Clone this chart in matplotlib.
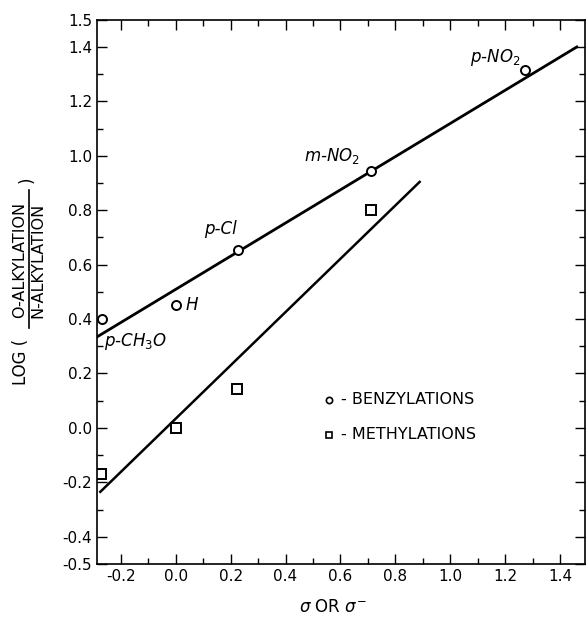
import matplotlib.pyplot as plt
from matplotlib.lines import Line2D
from matplotlib.ticker import MultipleLocator, FixedLocator

# benzylation points (sigma, log ratio)
benz_sigma = [-0.268, 0.0, 0.227, 0.71, 1.27]
benz_log = [0.40, 0.45, 0.654, 0.945, 1.316]
benz_names = ["p-CH$_3$O", "H", "p-Cl", "m-NO$_2$", "p-NO$_2$"]

# methylation points
meth_sigma = [-0.27, 0.0, 0.225, 0.71]
meth_log = [-0.17, 0.0, 0.143, 0.80]

# fitted lines (end points)
benz_fit_x = [-0.285, 1.46]
benz_fit_y = [0.335, 1.40]
meth_fit_x = [-0.274, 0.888]
meth_fit_y = [-0.235, 0.904]

x_ticks = [-0.2, 0.0, 0.2, 0.4, 0.6, 0.8, 1.0, 1.2, 1.4]
x_labels = ["-0.2", "0.0", "0.2", "0.4", "0.6", "0.8", "1.0", "1.2", "1.4"]
y_ticks = [-0.5, -0.4, -0.2, 0.0, 0.2, 0.4, 0.6, 0.8, 1.0, 1.2, 1.4, 1.5]
y_labels = ["-0.5", "-0.4", "-0.2", "0.0", "0.2", "0.4", "0.6", "0.8",
            "1.0", "1.2", "1.4", "1.5"]

W, H = 588, 617
fig = plt.figure(figsize=(W / 100, H / 100), dpi=100)
ax = fig.add_axes([0.165, 0.086, 0.83, 0.882])

ax.plot(benz_fit_x, benz_fit_y, color="black", lw=2)
ax.plot(meth_fit_x, meth_fit_y, color="black", lw=1.8)
ax.plot(benz_sigma, benz_log, "o", ms=6.5, mfc="white", mec="black", mew=1.4)
ax.plot(meth_sigma, meth_log, "s", ms=6.5, mfc="white", mec="black", mew=1.4)

# substituent labels
label_pos = [(-0.262, 0.316), (0.035, 0.45), (0.105, 0.73), (0.466, 1.00), (1.07, 1.36)]
for name, (lx, ly) in zip(benz_names, label_pos):
    ax.text(lx, ly, name, fontsize=12, style="italic", va="center", ha="left")

# legend drawn by hand
ax.plot([0.475], [0.302], "o", ms=4.5, mfc="white", mec="black", mew=1.2,
        transform=ax.transAxes, clip_on=False)
ax.plot([0.475], [0.237], "s", ms=4.5, mfc="white", mec="black", mew=1.2,
        transform=ax.transAxes, clip_on=False)
ax.text(0.50, 0.302, "- BENZYLATIONS", transform=ax.transAxes, fontsize=11.5, va="center")
ax.text(0.50, 0.237, "- METHYLATIONS", transform=ax.transAxes, fontsize=11.5, va="center")

ax.set_xlim(-0.286, 1.49)
ax.set_ylim(-0.5, 1.5)
ax.xaxis.set_major_locator(FixedLocator(x_ticks))
ax.set_xticklabels(x_labels)
ax.xaxis.set_minor_locator(MultipleLocator(0.1))
ax.yaxis.set_major_locator(FixedLocator(y_ticks))
ax.set_yticklabels(y_labels)
ax.yaxis.set_minor_locator(MultipleLocator(0.1))
ax.tick_params(which="both", direction="in", top=True, right=True, labelsize=11, width=1)
ax.tick_params(which="major", length=7)
ax.tick_params(which="minor", length=4)
for s in ax.spines.values():
    s.set_linewidth(1.2)

# x label
fig.text(333 / W, 1 - 607 / H, r"$\sigma$ OR $\sigma^{-}$", fontsize=12, ha="center", va="center")

# y label: LOG ( O-ALKYLATION / N-ALKYLATION ), built from rotated pieces
fig.text(21 / W, 1 - 362 / H, "LOG (", rotation=90, fontsize=12, ha="center", va="center")
fig.text(20 / W, 1 - 260 / H, "O-ALKYLATION", rotation=90, fontsize=11.5,
         ha="center", va="center")
fig.text(38 / W, 1 - 260 / H, "N-ALKYLATION", rotation=90, fontsize=11.5,
         ha="center", va="center")
fig.text(27 / W, 1 - 180 / H, ")", rotation=90, fontsize=12, ha="center", va="center")
fig.add_artist(Line2D([29 / W, 29 / W], [1 - 328 / H, 1 - 190 / H],
                      transform=fig.transFigure, color="black", lw=1.2))

fig.savefig("out.png", dpi=100)
